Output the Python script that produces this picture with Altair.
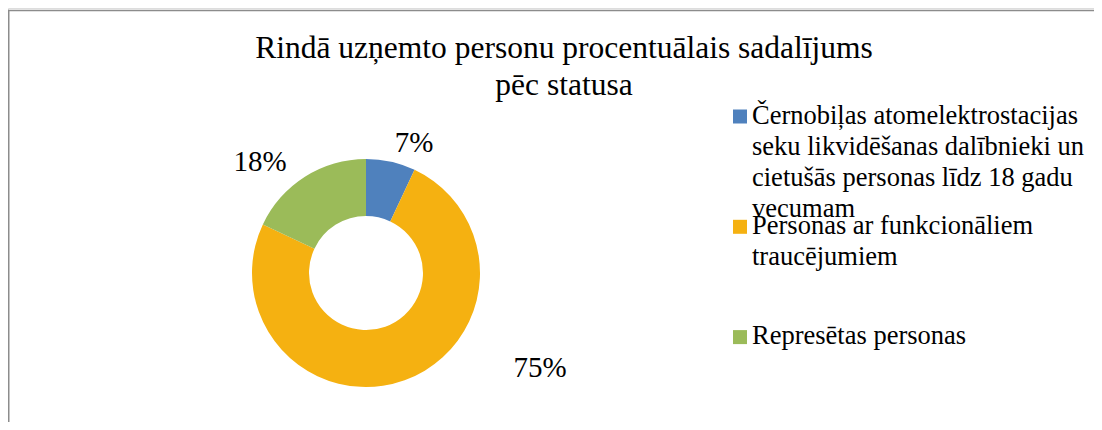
import altair as alt
import pandas as pd

# ---- data ----
categories = [
    "Černobiļas atomelektrostacijas seku likvidēšanas dalībnieki un cietušās personas līdz 18 gadu vecumam",
    "Personas ar funkcionāliem traucējumiem",
    "Represētas personas",
]
legend_lines = [
    ["Černobiļas atomelektrostacijas", "seku likvidēšanas dalībnieki un",
     "cietušās personas līdz 18 gadu", "vecumam"],
    ["Personas ar funkcionāliem", "traucējumiem"],
    ["Represētas personas"],
]
percent = [7, 75, 18]
colors = ["#4F81BD", "#F5B111", "#9BBB59"]
title_lines = ["Rindā uzņemto personu procentuālais sadalījums", "pēc statusa"]

df = pd.DataFrame({"category": categories, "value": percent, "idx": list(range(len(categories)))})

leg_rows = []
for i, (cat, lines) in enumerate(zip(categories, legend_lines)):
    for j, line in enumerate(lines):
        leg_rows.append({"category": cat, "idx": i, "line": j, "text": line})
leg_df = pd.DataFrame(leg_rows)

title_df = pd.DataFrame({"text": title_lines, "line": list(range(len(title_lines)))})

FONT = "Liberation Serif"
W, H = 1086, 414
CX, CY = 358, 265          # donut centre (layout)
R_OUT, R_IN = 114, 57
LEG_X_SYM, LEG_X_TXT = 732, 744
LEG_Y0, LEG_PITCH, LEG_LH = 115.5, 110.3, 31
TITLE_X, TITLE_Y0, TITLE_LH = 556, 50, 37

color_scale = alt.Scale(domain=categories, range=colors)

donut = alt.Chart(df).mark_arc(radius=R_OUT, innerRadius=R_IN).encode(
    theta=alt.Theta("value:Q", stack=True),
    order=alt.Order("idx:Q"),
    color=alt.Color("category:N", scale=color_scale, legend=None),
    x=alt.value(CX), y=alt.value(CY),
)

# percentage labels (layout positions chosen to match original), same order as categories
label_pos = [(406, 144), (532, 369), (252, 163)]
labels = []
for cat, (lx, ly) in zip(categories, label_pos):
    labels.append(
        alt.Chart(df).transform_filter(alt.datum.category == cat)
        .transform_calculate(txt="datum.value + '%'")
        .mark_text(font=FONT, fontSize=29, color="black", align="center", baseline="alphabetic")
        .encode(text="txt:N", x=alt.value(lx), y=alt.value(ly))
    )

# legend (drawn manually to reproduce multi-line entries)
leg_sym = alt.Chart(df).transform_calculate(
    py=f"{LEG_Y0} - 7 + {LEG_PITCH} * datum.idx"
).mark_square(size=196, opacity=1).encode(
    x=alt.value(LEG_X_SYM),
    y=alt.Y("py:Q", scale=None),
    color=alt.Color("category:N", scale=color_scale, legend=None),
)
leg_txt = alt.Chart(leg_df).transform_calculate(
    py=f"{LEG_Y0} + {LEG_PITCH} * datum.idx + {LEG_LH} * datum.line"
).mark_text(font=FONT, fontSize=26.5, color="black", align="left", baseline="alphabetic").encode(
    x=alt.value(LEG_X_TXT),
    y=alt.Y("py:Q", scale=None),
    text="text:N",
)

# chart title (two lines)
title = alt.Chart(title_df).transform_calculate(
    py=f"{TITLE_Y0} + {TITLE_LH} * datum.line"
).mark_text(font=FONT, fontSize=31.5, color="black", align="center", baseline="alphabetic").encode(
    x=alt.value(TITLE_X),
    y=alt.Y("py:Q", scale=None),
    text="text:N",
)

frame_data = alt.Data(values=[{}])
top_rule = alt.Chart(frame_data).mark_rule(color="#8c8c8c", strokeWidth=1.5).encode(
    x=alt.value(0), x2=alt.value(W), y=alt.value(2.5))
left_rule = alt.Chart(frame_data).mark_rule(color="#8c8c8c", strokeWidth=1.5).encode(
    x=alt.value(0.75), y=alt.value(2), y2=alt.value(H))

chart = alt.layer(top_rule, left_rule, title, donut, *labels, leg_sym, leg_txt).properties(
    width=W, height=H,
    autosize=alt.AutoSizeParams(type="none"),
    padding=0,
).configure_view(stroke=None).configure(background="white")

chart.save("out.html", embed_options={"renderer": "svg", "actions": False})
